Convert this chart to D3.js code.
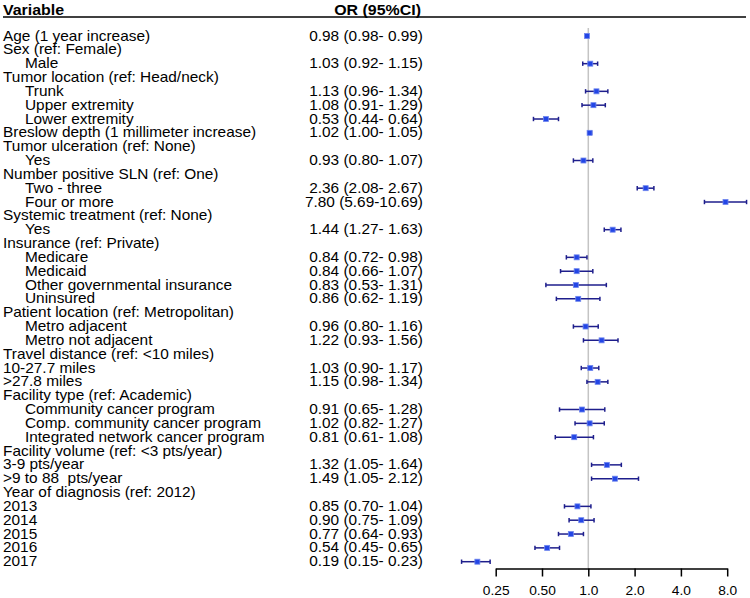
<!DOCTYPE html>
<html>
<head>
<meta charset="utf-8">
<script src="https://cdn.jsdelivr.net/npm/d3@7"></script>
<style>
  html, body { margin: 0; padding: 0; background: #fff; }
  svg { display: block; }
  text { font-family: "Liberation Sans", Arial, Helvetica, sans-serif; fill: #000; }
</style>
</head>
<body>
<svg id="chart" width="750" height="598"></svg>
<script>
// ---- data ----
const labels = [
  "Age (1 year increase)", "Sex (ref: Female)", "Male",
  "Tumor location (ref: Head/neck)", "Trunk", "Upper extremity", "Lower extremity",
  "Breslow depth (1 millimeter increase)",
  "Tumor ulceration (ref: None)", "Yes",
  "Number positive SLN (ref: One)", "Two - three", "Four or more",
  "Systemic treatment (ref: None)", "Yes",
  "Insurance (ref: Private)", "Medicare", "Medicaid", "Other governmental insurance", "Uninsured",
  "Patient location (ref: Metropolitan)", "Metro adjacent", "Metro not adjacent",
  "Travel distance (ref: <10 miles)", "10-27.7 miles", ">27.8 miles",
  "Facility type (ref: Academic)", "Community cancer program", "Comp. community cancer program", "Integrated network cancer program",
  "Facility volume (ref: <3 pts/year)", "3-9 pts/year", ">9 to 88  pts/year",
  "Year of diagnosis (ref: 2012)", "2013", "2014", "2015", "2016", "2017"
];
const indented = [
  0, 0, 1,
  0, 1, 1, 1,
  0,
  0, 1,
  0, 1, 1,
  0, 1,
  0, 1, 1, 1, 1,
  0, 1, 1,
  0, 0, 0,
  0, 1, 1, 1,
  0, 0, 0,
  0, 0, 0, 0, 0, 0
];
const orValues = [
  0.98, null, 1.03,
  null, 1.13, 1.08, 0.53,
  1.02,
  null, 0.93,
  null, 2.36, 7.80,
  null, 1.44,
  null, 0.84, 0.84, 0.83, 0.86,
  null, 0.96, 1.22,
  null, 1.03, 1.15,
  null, 0.91, 1.02, 0.81,
  null, 1.32, 1.49,
  null, 0.85, 0.90, 0.77, 0.54, 0.19
];
const ciLower = [
  0.98, null, 0.92,
  null, 0.96, 0.91, 0.44,
  1.00,
  null, 0.80,
  null, 2.08, 5.69,
  null, 1.27,
  null, 0.72, 0.66, 0.53, 0.62,
  null, 0.80, 0.93,
  null, 0.90, 0.98,
  null, 0.65, 0.82, 0.61,
  null, 1.05, 1.05,
  null, 0.70, 0.75, 0.64, 0.45, 0.15
];
const ciUpper = [
  0.99, null, 1.15,
  null, 1.34, 1.29, 0.64,
  1.05,
  null, 1.07,
  null, 2.67, 10.69,
  null, 1.63,
  null, 0.98, 1.07, 1.31, 1.19,
  null, 1.16, 1.56,
  null, 1.17, 1.34,
  null, 1.28, 1.27, 1.08,
  null, 1.64, 2.12,
  null, 1.04, 1.09, 0.93, 0.65, 0.23
];
const tickValues = [0.25, 0.5, 1, 2, 4, 8];
const tickLabels = ["0.25", "0.50", "1.0", "2.0", "4.0", "8.0"];
const headers = ["Variable", "OR (95%CI)"];

// ---- layout ----
const svg = d3.select("#chart");
const SX = 1.1;            // horizontal stretch of the text
const fs = 14;
const rows = labels.map((l, i) => ({
  label: l, ind: indented[i], or: orValues[i], lo: ciLower[i], hi: ciUpper[i], i
}));

const y = d3.scaleLinear().domain([0, labels.length - 1]).range([36, 561.7]);
const x = d3.scaleLog().base(2).domain([0.25, 8]).range([495.7, 727.2]);

const f2 = d3.format(".2f");
const orText = d => `${f2(d.or)} (${f2(d.lo)}-${f2(d.hi).padStart(5, " ")})`;

function stretchedText(g, tx, ty, str, anchor, weight, size) {
  g.append("text")
    .attr("transform", `translate(${tx},${ty}) scale(${SX},1)`)
    .attr("text-anchor", anchor)
    .attr("font-size", size)
    .attr("font-weight", weight)
    .attr("xml:space", "preserve")
    .style("white-space", "pre")
    .text(str);
}

// header
const hg = svg.append("g");
stretchedText(hg, 3, 14.5, headers[0], "start", "bold", 14.5);
stretchedText(hg, 421, 14.5, headers[1], "end", "bold", 14.5);
hg.append("line").attr("x1", 3).attr("x2", 746).attr("y1", 17).attr("y2", 17)
  .attr("stroke", "#000").attr("stroke-width", 1.3);

// row labels
const tg = svg.append("g");
rows.forEach(d => {
  stretchedText(tg, d.ind ? 25 : 3, y(d.i) + 4.6, d.label, "start", "normal", fs);
  if (d.or != null) stretchedText(tg, 423, y(d.i) + 4.6, orText(d), "end", "normal", fs);
});

// reference line
svg.append("line")
  .attr("x1", x(1)).attr("x2", x(1)).attr("y1", 28).attr("y2", 568)
  .attr("stroke", "#c4c4c4").attr("stroke-width", 1.5);

// CI lines
const pts = rows.filter(d => d.or != null);
const cg = svg.append("g").attr("stroke", "#1e1e8c").attr("stroke-width", 1.5);
pts.forEach(d => {
  const yy = y(d.i);
  cg.append("line").attr("x1", x(d.lo)).attr("x2", x(d.hi)).attr("y1", yy).attr("y2", yy);
  cg.append("line").attr("x1", x(d.lo)).attr("x2", x(d.lo)).attr("y1", yy - 2.2).attr("y2", yy + 2.2);
  cg.append("line").attr("x1", x(d.hi)).attr("x2", x(d.hi)).attr("y1", yy - 2.2).attr("y2", yy + 2.2);
});

// points
const sq = 5;
svg.append("g").selectAll("rect").data(pts).join("rect")
  .attr("x", d => x(d.or) - sq / 2)
  .attr("y", d => y(d.i) - sq / 2)
  .attr("width", sq).attr("height", sq)
  .attr("fill", "#2346e6")
  .attr("stroke", "#6f86ee").attr("stroke-width", 0.8);

// axis
const axis = d3.axisBottom(x).tickValues(tickValues)
  .tickFormat((d, i) => tickLabels[i]).tickSize(8).tickSizeOuter(0).tickPadding(10);
const ag = svg.append("g").attr("transform", "translate(0,568.5)").call(axis);
ag.select(".domain").attr("stroke", "#000").attr("stroke-width", 1.5);
ag.selectAll(".tick line").attr("stroke", "#000").attr("stroke-width", 1.5);
ag.selectAll(".tick text")
  .attr("font-family", "'Liberation Sans', Arial, sans-serif")
  .attr("font-size", 12.5)
  .attr("fill", "#000")
  .attr("transform", `scale(${SX},1)`);
</script>
</body>
</html>
